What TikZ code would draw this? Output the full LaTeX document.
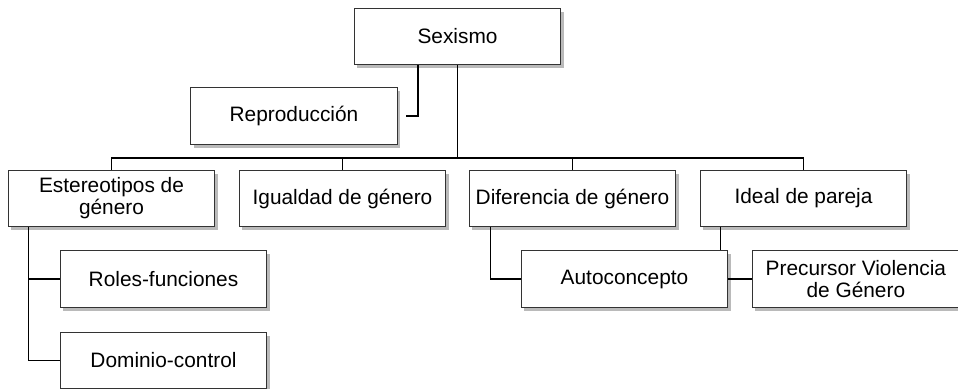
\documentclass[tikz,border=0pt]{standalone}
\usepackage{fontspec}
\setmainfont{Liberation Sans}
\usetikzlibrary{positioning, shadows, calc}

\begin{document}
\begin{tikzpicture}[
      box/.style={rectangle, draw=black!80, line width=0.6pt, fill=white, minimum width=6.2cm, minimum height=1.7cm, align=center, inner sep=0.1cm, font=\fontsize{17.8}{18.6}\selectfont, drop shadow={shadow xshift=2.5pt, shadow yshift=-3pt, fill=black!60, opacity=0.45}},
      link/.style={draw, line width=1.1pt}
    ]
    \useasboundingbox (0,0) rectangle (28.74,-11.67);

    % Top
    \node[box] (sexismo) at (13.725,-1.095) {Sexismo};
    \node[box] (reproduccion) at (8.82,-3.48) {Reproducción};

    % Categories
    \node[box] (estereotipos) at (3.345,-5.955) {Estereotipos de\\género};
    \node[box] (igualdad) at (10.275,-5.955) {Igualdad de género};
    \node[box] (diferencia) at (17.175,-5.955) {Diferencia de género};
    \node[box] (ideal) at (24.105,-5.955) {Ideal de pareja};

    % Sub-categories
    \node[box] (roles) at (4.905,-8.37) {Roles-funciones};
    \node[box, below=0.72cm of roles] (dominio) {Dominio-control};
    \node[box] (autoconcepto) at (18.735,-8.37) {Autoconcepto};
    \node[box, right=0.72cm of autoconcepto] (precursor) {Precursor Violencia\\de Género};

    % Helper points
    \coordinate (bus) at (13.725,-4.74);
    \coordinate (eleft) at ([xshift=0.63cm]estereotipos.south west);
    \coordinate (dleft) at ([xshift=0.66cm]diferencia.south west);
    \coordinate (ileft) at ([xshift=0.63cm]ideal.south west);

    % Connections
    \draw[link] ([xshift=-1.185cm]sexismo.south) |- ([xshift=0.24cm]reproduccion.east);
    \draw[link] (sexismo.south) -- (bus);
    \draw[link] (estereotipos.north) |- (ideal.north |- bus) -- (ideal.north);
    \foreach \n in {igualdad, diferencia}
      \draw[link] (\n.north) -- (\n.north |- bus);
    \draw[link] (eleft) |- (dominio.west);
    \draw[link] (eleft |- roles.west) -- (roles.west);
    \draw[link] (dleft) |- (autoconcepto.west);
    \draw[link] (ileft) -- (ileft |- autoconcepto.north);
    \draw[link] (autoconcepto) -- (precursor);

    \end{tikzpicture}
\end{document}
